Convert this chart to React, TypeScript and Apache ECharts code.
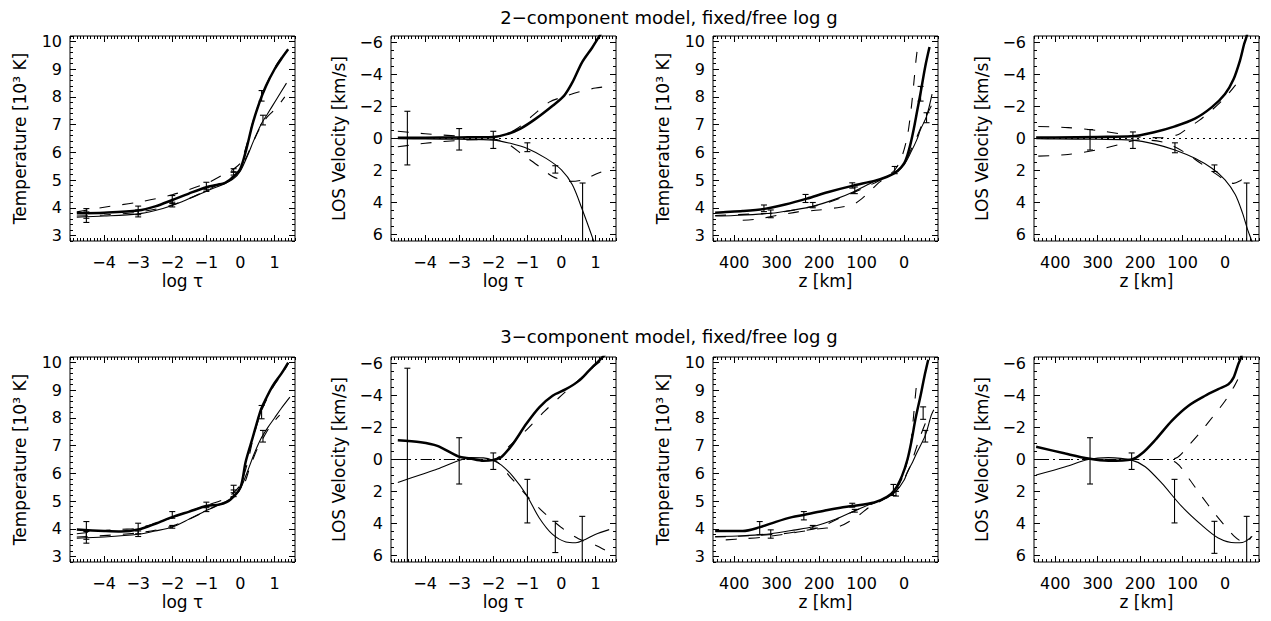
import React, { useEffect, useRef } from 'react';
import * as echarts from 'echarts';

type Pt = [number, number];
type Err = [number, number, number];

// ---------- titles & tick labels ----------
const TITLE_TOP = '2\u2212component model, fixed/free log g';
const TITLE_BOTTOM = '3\u2212component model, fixed/free log g';
const TAU_TICKS = [-4, -3, -2, -1, 0, 1];
const Z_TICKS = [400, 300, 200, 100, 0];
const T_TICKS = [3, 4, 5, 6, 7, 8, 9, 10];
const V_TICKS = [-6, -4, -2, 0, 2, 4, 6];

// ---------- panel 1: 2-comp, T vs log tau ----------
const p1Thick: Pt[] = [[-4.8, 3.8], [-4.0, 3.82], [-3.0, 3.9], [-2.5, 4.05], [-2.0, 4.28], [-1.5, 4.52], [-1.0, 4.74], [-0.7, 4.82], [-0.45, 4.9], [-0.2, 5.12], [0.0, 5.42], [0.17, 6.1], [0.35, 7.0], [0.55, 7.78], [0.75, 8.4], [1.0, 9.0], [1.2, 9.38], [1.4, 9.72]];
const p1Thin: Pt[] = [[-4.8, 3.66], [-4.0, 3.7], [-3.0, 3.78], [-2.5, 3.9], [-2.0, 4.08], [-1.5, 4.33], [-1.0, 4.6], [-0.5, 4.85], [-0.2, 5.05], [0.0, 5.33], [0.2, 5.86], [0.4, 6.46], [0.6, 7.0], [0.8, 7.4], [1.05, 7.9], [1.35, 8.5]];
const p1DashA: Pt[] = [[-4.8, 3.85], [-4.0, 4.02], [-3.0, 4.2], [-2.0, 4.47], [-1.0, 4.88], [-0.5, 5.2], [-0.2, 5.4], [0.0, 5.62], [0.2, 6.35], [0.4, 7.25], [0.6, 7.95], [0.8, 8.55], [1.0, 9.05], [1.2, 9.42], [1.4, 9.72]];
const p1DashB: Pt[] = [[-4.8, 3.7], [-4.0, 3.74], [-3.0, 3.84], [-2.0, 4.1], [-1.0, 4.62], [-0.5, 4.95], [-0.2, 5.15], [0.0, 5.4], [0.2, 5.9], [0.4, 6.45], [0.6, 6.95], [0.8, 7.3], [1.05, 7.6], [1.3, 8.0]];
const p1ErrThick: Err[] = [[-4.52, 3.62, 3.97], [-3.0, 3.75, 4.06], [-2.0, 4.15, 4.44], [-1.0, 4.65, 4.92], [-0.2, 5.28, 5.41], [0.62, 7.85, 8.23]];
const p1ErrThin: Err[] = [[-4.52, 3.47, 3.85], [-3.0, 3.67, 3.92], [-2.0, 4.03, 4.2], [-1.0, 4.59, 4.72], [-0.2, 5.18, 5.3], [0.66, 6.99, 7.34]];

// ---------- panel 2: 2-comp, V vs log tau ----------
const p2Thick: Pt[] = [[-4.8, -0.04], [-4.0, -0.05], [-3.0, -0.07], [-2.0, -0.1], [-1.6, -0.27], [-1.2, -0.62], [-0.75, -1.24], [-0.25, -2.06], [0.08, -2.68], [0.32, -3.5], [0.6, -4.74], [0.9, -5.67], [1.1, -6.35], [1.3, -7.0]];
const p2Thin: Pt[] = [[-4.8, 0.02], [-4.0, 0.03], [-3.0, 0.05], [-2.0, 0.1], [-1.5, 0.3], [-1.0, 0.62], [-0.45, 1.24], [0.0, 1.96], [0.32, 2.89], [0.61, 4.43], [0.92, 6.25], [1.0, 6.8]];
const p2DashA: Pt[] = [[-4.8, -0.45], [-4.0, -0.3], [-3.0, -0.15], [-2.0, -0.08], [-1.6, -0.3], [-1.3, -0.62], [-0.84, -1.44], [-0.36, -2.27], [0.08, -2.62], [0.5, -2.9], [1.0, -3.15], [1.55, -3.3]];
const p2DashB: Pt[] = [[-4.8, 0.52], [-4.0, 0.3], [-3.0, 0.12], [-2.0, 0.05], [-1.6, 0.3], [-1.13, 1.03], [-0.65, 1.75], [-0.26, 2.37], [0.22, 2.68], [0.6, 2.6], [1.09, 2.16], [1.55, 1.8]];
const p2Err: Err[] = [[-4.52, -1.7, 1.65], [-3.0, -0.62, 0.72], [-2.0, -0.45, 0.62], [-1.0, 0.27, 0.82], [-0.18, 1.7, 2.16], [0.62, 2.78, 9]];

// ---------- panel 3: 2-comp, T vs z ----------
const p3Thick: Pt[] = [[445, 3.82], [426, 3.84], [380, 3.88], [329, 3.96], [280, 4.12], [229, 4.33], [178, 4.57], [120, 4.8], [70, 4.97], [40, 5.12], [15, 5.33], [0, 5.6], [-8, 5.9], [-16, 6.35], [-23, 6.85], [-31, 7.5], [-39, 8.15], [-50, 9.1], [-60, 9.8]];
const p3Thin: Pt[] = [[445, 3.7], [400, 3.72], [314, 3.8], [260, 3.92], [215, 4.05], [160, 4.32], [116, 4.6], [70, 4.95], [40, 5.12], [19, 5.28], [0, 5.55], [-16, 6.0], [-30, 6.45], [-39, 6.83], [-53, 7.3], [-66, 8.1]];
const p3DashA: Pt[] = [[380, 3.55], [340, 3.6], [300, 3.72], [250, 3.85], [200, 3.92], [150, 4.02], [120, 4.12], [100, 4.32], [80, 4.6], [60, 4.9], [40, 5.12], [20, 5.4], [5, 5.85], [-8, 6.6], [-17, 7.6], [-23, 8.5], [-28, 9.3], [-32, 9.8]];
const p3DashB: Pt[] = [[445, 3.72], [350, 3.78], [300, 3.82], [200, 4.1], [150, 4.35], [100, 4.68], [60, 4.97], [20, 5.3], [0, 5.6], [-15, 6.05], [-30, 6.55], [-45, 7.1], [-60, 7.55], [-75, 8.0]];
const p3ErrThick: Err[] = [[330, 3.86, 4.1], [232, 4.19, 4.48], [122, 4.71, 4.9], [22, 5.23, 5.49], [-39, 7.85, 8.38]];
const p3ErrThin: Err[] = [[314, 3.64, 3.92], [215, 4.0, 4.19], [116, 4.51, 4.75], [-53, 7.07, 7.43]];

// ---------- panel 4: 2-comp, V vs z ----------
const p4Thick: Pt[] = [[445, -0.06], [400, -0.07], [300, -0.1], [220, -0.14], [165, -0.41], [118, -0.76], [71, -1.24], [31, -1.96], [0, -2.78], [-20, -3.7], [-35, -4.85], [-45, -5.9], [-51, -6.4], [-56, -7.2]];
const p4Thin: Pt[] = [[445, 0.02], [400, 0.03], [300, 0.05], [220, 0.1], [165, 0.35], [118, 0.72], [71, 1.24], [31, 1.86], [0, 2.58], [-24, 3.5], [-41, 4.64], [-53, 5.67], [-63, 6.4], [-70, 7.0]];
const p4DashA: Pt[] = [[440, -0.75], [370, -0.68], [300, -0.5], [250, -0.3], [200, -0.08], [150, -0.05], [110, -0.25], [90, -0.6], [60, -1.15], [30, -1.8], [0, -2.55], [-25, -3.35]];
const p4DashB: Pt[] = [[440, 1.1], [370, 1.0], [300, 0.7], [250, 0.38], [200, 0.08], [150, 0.2], [120, 0.5], [90, 0.95], [60, 1.5], [30, 2.05], [0, 2.6], [-20, 2.8], [-35, 2.65], [-45, 2.45]];
const p4Err: Err[] = [[318, -0.56, 0.72], [217, -0.41, 0.62], [118, 0.27, 0.89], [25, 1.65, 2.06], [-51, 2.78, 9]];

// ---------- panel 5: 3-comp, T vs log tau ----------
const p5Thick: Pt[] = [[-4.8, 3.97], [-4.0, 3.92], [-3.5, 3.9], [-3.0, 3.97], [-2.5, 4.18], [-2.0, 4.42], [-1.5, 4.62], [-1.0, 4.82], [-0.6, 4.88], [-0.3, 5.05], [0.0, 5.5], [0.15, 6.4], [0.35, 7.25], [0.6, 8.3], [0.75, 8.7], [0.95, 9.17], [1.2, 9.6], [1.4, 10.0]];
const p5Thin: Pt[] = [[-4.8, 3.66], [-4.0, 3.7], [-3.0, 3.8], [-2.5, 3.92], [-2.0, 4.06], [-1.5, 4.35], [-1.0, 4.66], [-0.5, 4.93], [-0.2, 5.15], [0.0, 5.45], [0.2, 6.05], [0.4, 6.7], [0.6, 7.25], [0.8, 7.65], [1.0, 8.0], [1.2, 8.35], [1.45, 8.75]];
const p5DashA: Pt[] = [[-4.8, 3.82], [-4.0, 3.93], [-3.5, 3.98], [-3.0, 4.02], [-2.0, 4.4], [-1.0, 4.85], [-0.5, 5.05], [-0.2, 5.3], [0.0, 5.6], [0.2, 6.35], [0.4, 7.4], [0.6, 8.2], [0.8, 8.75], [1.0, 9.2], [1.2, 9.55], [1.4, 9.95]];
const p5DashB: Pt[] = [[-4.8, 3.7], [-3.0, 3.85], [-2.0, 4.1], [-1.0, 4.65], [0.0, 5.4], [0.3, 6.3], [0.5, 6.9], [0.7, 7.35], [0.9, 7.75], [1.15, 8.1]];
const p5ErrThick: Err[] = [[-4.52, 3.62, 4.26], [-3.0, 3.82, 4.2], [-2.0, 4.38, 4.62], [-1.0, 4.8, 4.96], [-0.2, 5.3, 5.57], [0.62, 7.97, 8.45]];
const p5ErrThin: Err[] = [[-4.52, 3.48, 3.9], [-3.0, 3.72, 3.92], [-2.0, 4.02, 4.12], [-1.0, 4.62, 4.76], [-0.2, 5.16, 5.4], [0.66, 7.13, 7.55]];

// ---------- panel 6: 3-comp, V vs log tau ----------
const p6Thick: Pt[] = [[-4.8, -1.2], [-4.13, -1.08], [-3.64, -0.85], [-3.03, -0.2], [-2.68, -0.06], [-2.29, 0.08], [-2.02, 0.04], [-1.76, -0.16], [-1.42, -0.99], [-1.03, -2.23], [-0.65, -3.26], [-0.26, -3.98], [0.13, -4.39], [0.51, -4.91], [0.8, -5.53], [0.99, -5.94], [1.09, -6.14], [1.3, -6.6]];
const p6Thin: Pt[] = [[-4.8, 1.44], [-4.13, 0.95], [-3.64, 0.6], [-3.03, 0.08], [-2.68, -0.12], [-2.29, -0.1], [-2.02, 0.04], [-1.76, 0.35], [-1.42, 1.07], [-1.03, 2.2], [-0.65, 3.65], [-0.26, 4.68], [0.13, 5.15], [0.42, 5.2], [0.7, 4.99], [0.99, 4.68], [1.4, 4.38]];
const p6DashA: Pt[] = [[-4.8, 0], [-3.0, 0], [-2.4, 0], [-2.0, 0], [-1.5, -0.9], [-1.0, -1.9], [-0.5, -3.0], [0.0, -4.0], [0.5, -4.95], [1.0, -5.9], [1.45, -6.6]];
const p6DashB: Pt[] = [[-4.8, 0], [-3.0, 0], [-2.0, 0.05], [-1.5, 1.1], [-1.0, 2.3], [-0.5, 3.35], [0.0, 4.25], [0.5, 4.95], [1.0, 5.35], [1.45, 5.85]];
const p6Err: Err[] = [[-4.52, -5.7, 9], [-3.0, -1.36, 1.53], [-2.0, -0.41, 0.62], [-1.0, 1.24, 3.96], [-0.18, 3.86, 5.81], [0.61, 3.55, 9]];

// ---------- panel 7: 3-comp, T vs z ----------
const p7Thick: Pt[] = [[445, 3.92], [380, 3.92], [341, 4.05], [302, 4.25], [264, 4.42], [236, 4.5], [186, 4.66], [150, 4.76], [122, 4.82], [70, 4.95], [40, 5.15], [23, 5.38], [5, 5.9], [-8, 6.5], [-18, 7.2], [-27, 7.97], [-39, 8.81], [-48, 9.5], [-57, 10.1]];
const p7Thin: Pt[] = [[445, 3.72], [380, 3.75], [314, 3.82], [260, 3.95], [215, 4.07], [160, 4.35], [116, 4.65], [70, 4.95], [40, 5.12], [19, 5.35], [0, 5.75], [-8, 6.05], [-20, 6.4], [-31, 6.77], [-50, 7.37], [-64, 8.09], [-70, 8.3]];
const p7DashA: Pt[] = [[420, 3.6], [380, 3.64], [330, 3.7], [250, 3.88], [200, 4.0], [150, 4.1], [110, 4.45], [80, 4.8], [50, 5.05], [20, 5.4], [0, 6.0], [-15, 7.0], [-22, 8.0], [-28, 9.0], [-32, 9.5]];
const p7DashB: Pt[] = [[445, 3.7], [300, 3.8], [250, 3.9], [200, 4.05], [120, 4.62], [60, 5.0], [20, 5.35], [-10, 6.1], [-35, 7.2], [-50, 7.8], [-62, 8.2]];
const p7ErrThick: Err[] = [[340, 3.78, 4.26], [236, 4.32, 4.62], [122, 4.78, 4.92], [25, 5.2, 5.6], [-45, 7.95, 8.4]];
const p7ErrThin: Err[] = [[314, 3.66, 3.96], [215, 4.02, 4.12], [116, 4.6, 4.7], [19, 5.18, 5.35], [-50, 7.13, 7.55]];

// ---------- panel 8: 3-comp, V vs z ----------
const p8Thick: Pt[] = [[445, -0.8], [376, -0.37], [322, -0.06], [275, 0.08], [220, 0.0], [196, -0.37], [165, -1.2], [125, -2.43], [86, -3.36], [47, -3.98], [16, -4.39], [-8, -4.7], [-20, -5.11], [-31, -5.94], [-38, -6.4], [-42, -7]];
const p8Thin: Pt[] = [[445, 0.97], [376, 0.45], [322, 0.0], [275, -0.12], [220, 0.04], [188, 0.45], [149, 1.48], [102, 2.93], [55, 4.1], [16, 4.9], [-24, 5.2], [-41, 5.18], [-64, 4.8]];
const p8DashA: Pt[] = [[445, 0], [300, 0], [200, 0], [150, 0], [115, -0.1], [85, -0.9], [55, -1.8], [25, -2.8], [0, -3.65], [-20, -4.5], [-30, -5.0]];
const p8DashB: Pt[] = [[445, 0], [200, 0], [150, 0], [115, 0.2], [85, 1.2], [55, 2.3], [25, 3.35], [0, 4.15], [-20, 4.75], [-40, 5.15], [-50, 5.2], [-62, 4.8]];
const p8Err: Err[] = [[318, -1.36, 1.53], [220, -0.41, 0.62], [119, 1.24, 3.96], [25, 3.86, 5.86], [-51, 3.55, 9]];

// ---------- styling / layout ----------
const FONT = 'DejaVu Sans';
const INK = '#000';

const AXES: Record<string, any> = {
  tau: { min: -5, max: 1.6, inverse: false, major: TAU_TICKS, step: 0.1, name: 'log \u03c4', gap: 31 },
  z: { min: -80, max: 450, inverse: true, major: Z_TICKS, step: 10, name: 'z [km]', gap: 31 },
  T: { min: 2.8, max: 10.2, inverse: false, major: T_TICKS, step: 0.2, name: 'Temperature [10\u00b3 K]', gap: 42 },
  V: { min: -6.4, max: 6.4, inverse: true, major: V_TICKS, step: 0.5, name: 'LOS Velocity [km/s]', gap: 44 },
};

const ROW_TOPS = [36, 357];
const COL_LEFTS = [70, 391, 713, 1034];
const BOX_W = 225;
const BOX_H = 205;

const PANELS = [
  { x: 'tau', y: 'T', row: 0, col: 0, lines: [p1Thick, p1Thin, p1DashA, p1DashB], errs: [p1ErrThick, p1ErrThin] },
  { x: 'tau', y: 'V', row: 0, col: 1, lines: [p2Thick, p2Thin, p2DashA, p2DashB], errs: [p2Err] },
  { x: 'z', y: 'T', row: 0, col: 2, lines: [p3Thick, p3Thin, p3DashA, p3DashB], errs: [p3ErrThick, p3ErrThin] },
  { x: 'z', y: 'V', row: 0, col: 3, lines: [p4Thick, p4Thin, p4DashA, p4DashB], errs: [p4Err] },
  { x: 'tau', y: 'T', row: 1, col: 0, lines: [p5Thick, p5Thin, p5DashA, p5DashB], errs: [p5ErrThick, p5ErrThin] },
  { x: 'tau', y: 'V', row: 1, col: 1, lines: [p6Thick, p6Thin, p6DashA, p6DashB], errs: [p6Err] },
  { x: 'z', y: 'T', row: 1, col: 2, lines: [p7Thick, p7Thin, p7DashA, p7DashB], errs: [p7ErrThick, p7ErrThin] },
  { x: 'z', y: 'V', row: 1, col: 3, lines: [p8Thick, p8Thin, p8DashA, p8DashB], errs: [p8Err] },
];

const fmt = (v: number) => (v < 0 ? '\u2212' + Math.abs(v) : String(v));

function minorValues(spec: any): number[] {
  const out: number[] = [];
  const start = Math.ceil(spec.min / spec.step - 1e-9);
  const end = Math.floor(spec.max / spec.step + 1e-9);
  for (let k = start; k <= end; k++) out.push(Math.round(k * spec.step * 1e6) / 1e6);
  return out;
}

function makeAxes(dim: 'x' | 'y', grid: number, spec: any) {
  const sideA = dim === 'x' ? 'bottom' : 'left';
  const sideB = dim === 'x' ? 'top' : 'right';
  const minors = minorValues(spec);
  const base = {
    type: 'value',
    gridIndex: grid,
    min: spec.min,
    max: spec.max,
    inverse: spec.inverse,
    splitLine: { show: false },
    axisLine: { show: false, onZero: false },
    nameMoveOverlap: false,
  };
  const tick = (vals: number[], len: number) => ({
    show: true,
    inside: true,
    length: len,
    customValues: vals,
    lineStyle: { color: INK, width: 1 },
  });
  return [
    {
      ...base,
      position: sideA,
      axisTick: tick(spec.major, 6),
      axisLabel: {
        show: true,
        customValues: spec.major,
        formatter: fmt,
        color: INK,
        fontFamily: FONT,
        fontSize: 16,
        margin: dim === 'x' ? 13 : 8,
      },
      name: spec.name,
      nameLocation: 'middle',
      nameGap: spec.gap,
      nameTextStyle: { color: INK, fontFamily: FONT, fontSize: 17 },
    },
    { ...base, position: sideA, axisTick: tick(minors, 3), axisLabel: { show: false } },
    { ...base, position: sideB, axisTick: tick(spec.major, 6), axisLabel: { show: false } },
    { ...base, position: sideB, axisTick: tick(minors, 3), axisLabel: { show: false } },
  ];
}

function errSeries(errs: Err[], xi: number, yi: number, yspec: any) {
  const data = errs.map(([x, lo, hi]) => [
    x,
    Math.max(lo, yspec.min),
    Math.min(hi, yspec.max),
    lo < yspec.min ? 0 : 1,
    hi > yspec.max ? 0 : 1,
  ]);
  return {
    type: 'custom',
    xAxisIndex: xi,
    yAxisIndex: yi,
    silent: true,
    data,
    encode: { x: 0, y: [1, 2] },
    renderItem: (_p: any, api: any) => {
      const x = api.value(0);
      const a = api.coord([x, api.value(1)]);
      const b = api.coord([x, api.value(2)]);
      const st = { stroke: INK, lineWidth: 1.1 };
      const children: any[] = [
        { type: 'line', shape: { x1: a[0], y1: a[1], x2: b[0], y2: b[1] }, style: st },
      ];
      if (api.value(3)) children.push({ type: 'line', shape: { x1: a[0] - 3, y1: a[1], x2: a[0] + 3, y2: a[1] }, style: st });
      if (api.value(4)) children.push({ type: 'line', shape: { x1: b[0] - 3, y1: b[1], x2: b[0] + 3, y2: b[1] }, style: st });
      return { type: 'group', children };
    },
  };
}

function buildOption() {
  const grid: any[] = [];
  const xAxis: any[] = [];
  const yAxis: any[] = [];
  const series: any[] = [];
  PANELS.forEach((p, i) => {
    grid.push({
      left: COL_LEFTS[p.col],
      top: ROW_TOPS[p.row],
      width: BOX_W,
      height: BOX_H,
      show: true,
      borderColor: INK,
      borderWidth: 1,
      backgroundColor: 'transparent',
      containLabel: false,
      outerBoundsMode: 'none',
    });
    const xs = AXES[p.x];
    const ys = AXES[p.y];
    xAxis.push(...makeAxes('x', i, xs));
    yAxis.push(...makeAxes('y', i, ys));
    const xi = i * 4;
    const yi = i * 4;
    const styles = [
      { width: 2.5, type: 'solid' },
      { width: 1.1, type: 'solid' },
      { width: 1.1, type: [11, 12] },
      { width: 1.1, type: [11, 12] },
    ];
    p.lines.forEach((d, k) => {
      const s: any = {
        type: 'line',
        xAxisIndex: xi,
        yAxisIndex: yi,
        data: d,
        showSymbol: false,
        symbol: 'none',
        smooth: 0.3,
        silent: true,
        clip: true,
        lineStyle: { color: INK, width: styles[k].width, type: styles[k].type },
      };
      if (k === 1 && p.y === 'V') {
        s.markLine = {
          silent: true,
          symbol: ['none', 'none'],
          label: { show: false },
          lineStyle: { color: INK, width: 1, type: [2, 4] },
          data: [{ yAxis: 0 }],
        };
      }
      series.push(s);
    });
    p.errs.forEach((e) => series.push(errSeries(e, xi, yi, ys)));
  });
  return {
    animation: false,
    backgroundColor: '#fff',
    grid,
    xAxis,
    yAxis,
    series,
    graphic: [
      { type: 'text', x: 669, y: 17, style: { text: TITLE_TOP, fill: INK, fontFamily: FONT, fontSize: 18, align: 'center', verticalAlign: 'middle' } },
      { type: 'text', x: 669, y: 336, style: { text: TITLE_BOTTOM, fill: INK, fontFamily: FONT, fontSize: 18, align: 'center', verticalAlign: 'middle' } },
    ],
  };
}

export default function App() {
  const ref = useRef<HTMLDivElement>(null);
  useEffect(() => {
    const chart = echarts.init(ref.current!, null, { renderer: 'svg' });
    chart.setOption(buildOption() as any);
    return () => chart.dispose();
  }, []);
  return <div ref={ref} style={{ position: 'absolute', left: 0, top: 0, width: 1271, height: 621, background: '#fff' }} />;
}
